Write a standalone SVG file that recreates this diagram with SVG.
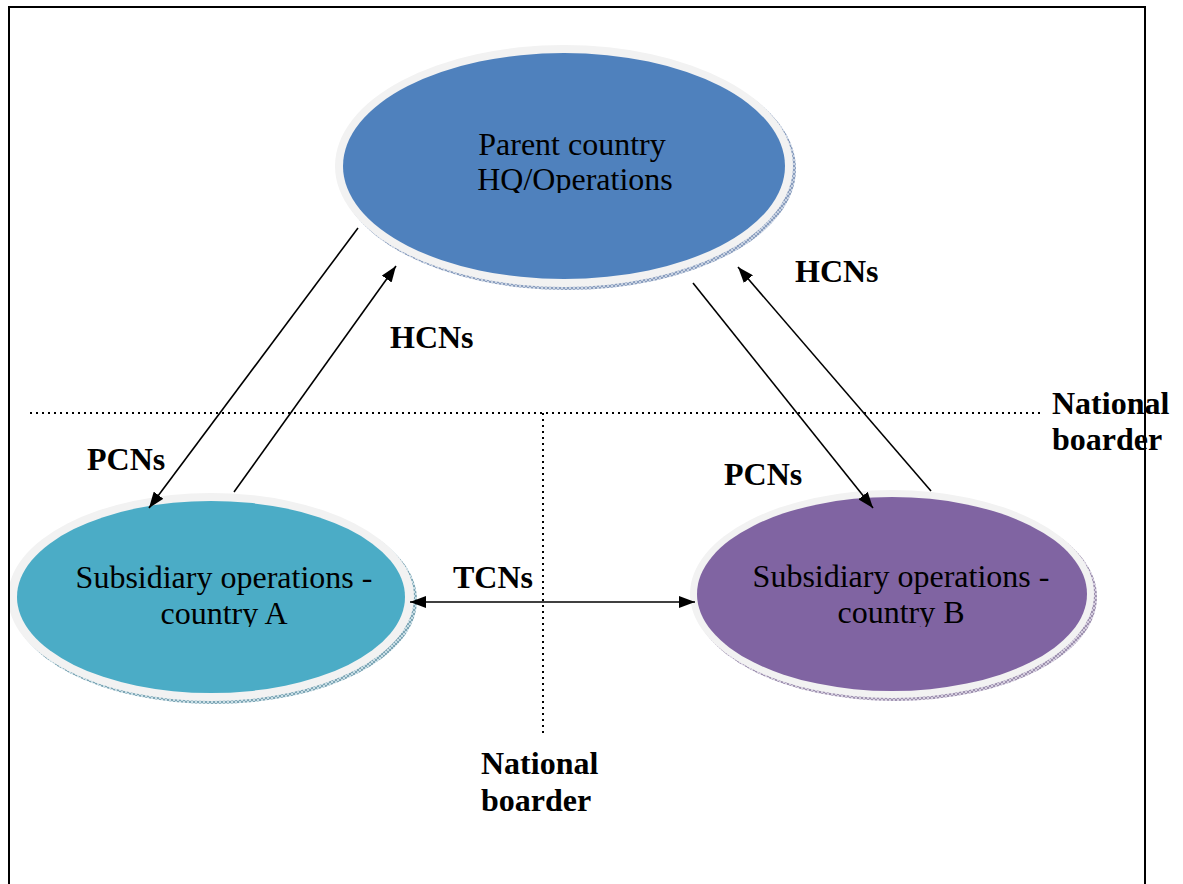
<svg xmlns="http://www.w3.org/2000/svg" width="1183" height="884" viewBox="0 0 1183 884">
<style>
.main{font-family:"Liberation Serif","Times New Roman",serif;font-size:32px;fill:#000;text-anchor:middle}
.lbl{font-family:"Liberation Serif","Times New Roman",serif;font-size:32px;font-weight:bold;fill:#000}
.rim{fill:#F2F2F2}
.conn{stroke:#000;stroke-width:1.6;fill:none}
.dot{stroke:#000;stroke-width:2;stroke-dasharray:2 4;fill:none}
</style>
<defs>
<marker id="ah" viewBox="0 0 16 12" refX="16" refY="6" markerWidth="16" markerHeight="12" markerUnits="userSpaceOnUse" orient="auto-start-reverse">
<path d="M0,0 L16,6 L0,12 z" fill="#000"/>
</marker>
<pattern id="hB" width="4" height="4" patternUnits="userSpaceOnUse">
<rect width="4" height="4" fill="#C9D3E3"/>
<path d="M0,4 L4,0 M0,0 L4,4" stroke="#6E86AD" stroke-width="0.7"/>
</pattern>
<pattern id="hA" width="4" height="4" patternUnits="userSpaceOnUse">
<rect width="4" height="4" fill="#C8DEE6"/>
<path d="M0,4 L4,0 M0,0 L4,4" stroke="#5E8EA0" stroke-width="0.7"/>
</pattern>
<pattern id="hP" width="4" height="4" patternUnits="userSpaceOnUse">
<rect width="4" height="4" fill="#D6CEE0"/>
<path d="M0,4 L4,0 M0,0 L4,4" stroke="#85789A" stroke-width="0.7"/>
</pattern>
<clipPath id="cT"><rect x="340" y="100" width="460" height="93"/></clipPath>
<clipPath id="cA"><rect x="20" y="550" width="400" height="77"/></clipPath>
<clipPath id="cB"><rect x="700" y="550" width="400" height="77"/></clipPath>
</defs>

<rect x="0" y="0" width="1183" height="884" fill="#fff"/>

<g id="parent">
<ellipse cx="567" cy="169" rx="229" ry="121" fill="url(#hB)"/>
<ellipse cx="564" cy="166" rx="229" ry="121" class="rim"/>
<ellipse cx="564" cy="166" rx="221" ry="113" fill="#4F81BD"/>
<g clip-path="url(#cT)">
<text class="main" x="572" y="155">Parent country</text>
<text class="main" x="575" y="190">HQ/Operations</text>
</g>
</g>

<g id="subA">
<ellipse cx="214" cy="600" rx="203" ry="104" fill="url(#hA)"/>
<ellipse cx="211" cy="597" rx="203" ry="104" class="rim"/>
<ellipse cx="211" cy="597" rx="194" ry="96" fill="#4BACC6"/>
<g clip-path="url(#cA)">
<text class="main" x="224" y="588">Subsidiary operations -</text>
<text class="main" x="224" y="624">country A</text>
</g>
</g>

<g id="subB">
<ellipse cx="895" cy="597" rx="202" ry="104" fill="url(#hP)"/>
<ellipse cx="892" cy="594" rx="202" ry="104" class="rim"/>
<ellipse cx="892" cy="594" rx="195" ry="97" fill="#8064A2"/>
<g clip-path="url(#cB)">
<text class="main" x="901" y="587">Subsidiary operations -</text>
<text class="main" x="901" y="623">country B</text>
</g>
</g>

<g id="borders">
<line class="dot" x1="30" y1="413" x2="1044" y2="413"/>
<line class="dot" x1="543" y1="413" x2="543" y2="733"/>
</g>

<g id="connectors">
<line class="conn" x1="358" y1="228" x2="149" y2="508" marker-end="url(#ah)"/>
<line class="conn" x1="234" y1="492" x2="396" y2="266" marker-end="url(#ah)"/>
<line class="conn" x1="693" y1="283" x2="873" y2="508" marker-end="url(#ah)"/>
<line class="conn" x1="931" y1="491" x2="738" y2="267" marker-end="url(#ah)"/>
<line class="conn" x1="410" y1="602" x2="695" y2="602" marker-start="url(#ah)" marker-end="url(#ah)"/>
</g>

<g id="labels">
<text class="lbl" x="390" y="348">HCNs</text>
<text class="lbl" x="795" y="282">HCNs</text>
<text class="lbl" x="87" y="470">PCNs</text>
<text class="lbl" x="724" y="485">PCNs</text>
<text class="lbl" x="453" y="588">TCNs</text>
<text class="lbl" x="1052" y="414">National</text>
<text class="lbl" x="1052" y="450">boarder</text>
<text class="lbl" x="481" y="774">National</text>
<text class="lbl" x="481" y="811">boarder</text>
</g>

<path id="frame" d="M9,884 L9,7 L1145,7 L1145,884" fill="none" stroke="#000" stroke-width="2"/>
</svg>
